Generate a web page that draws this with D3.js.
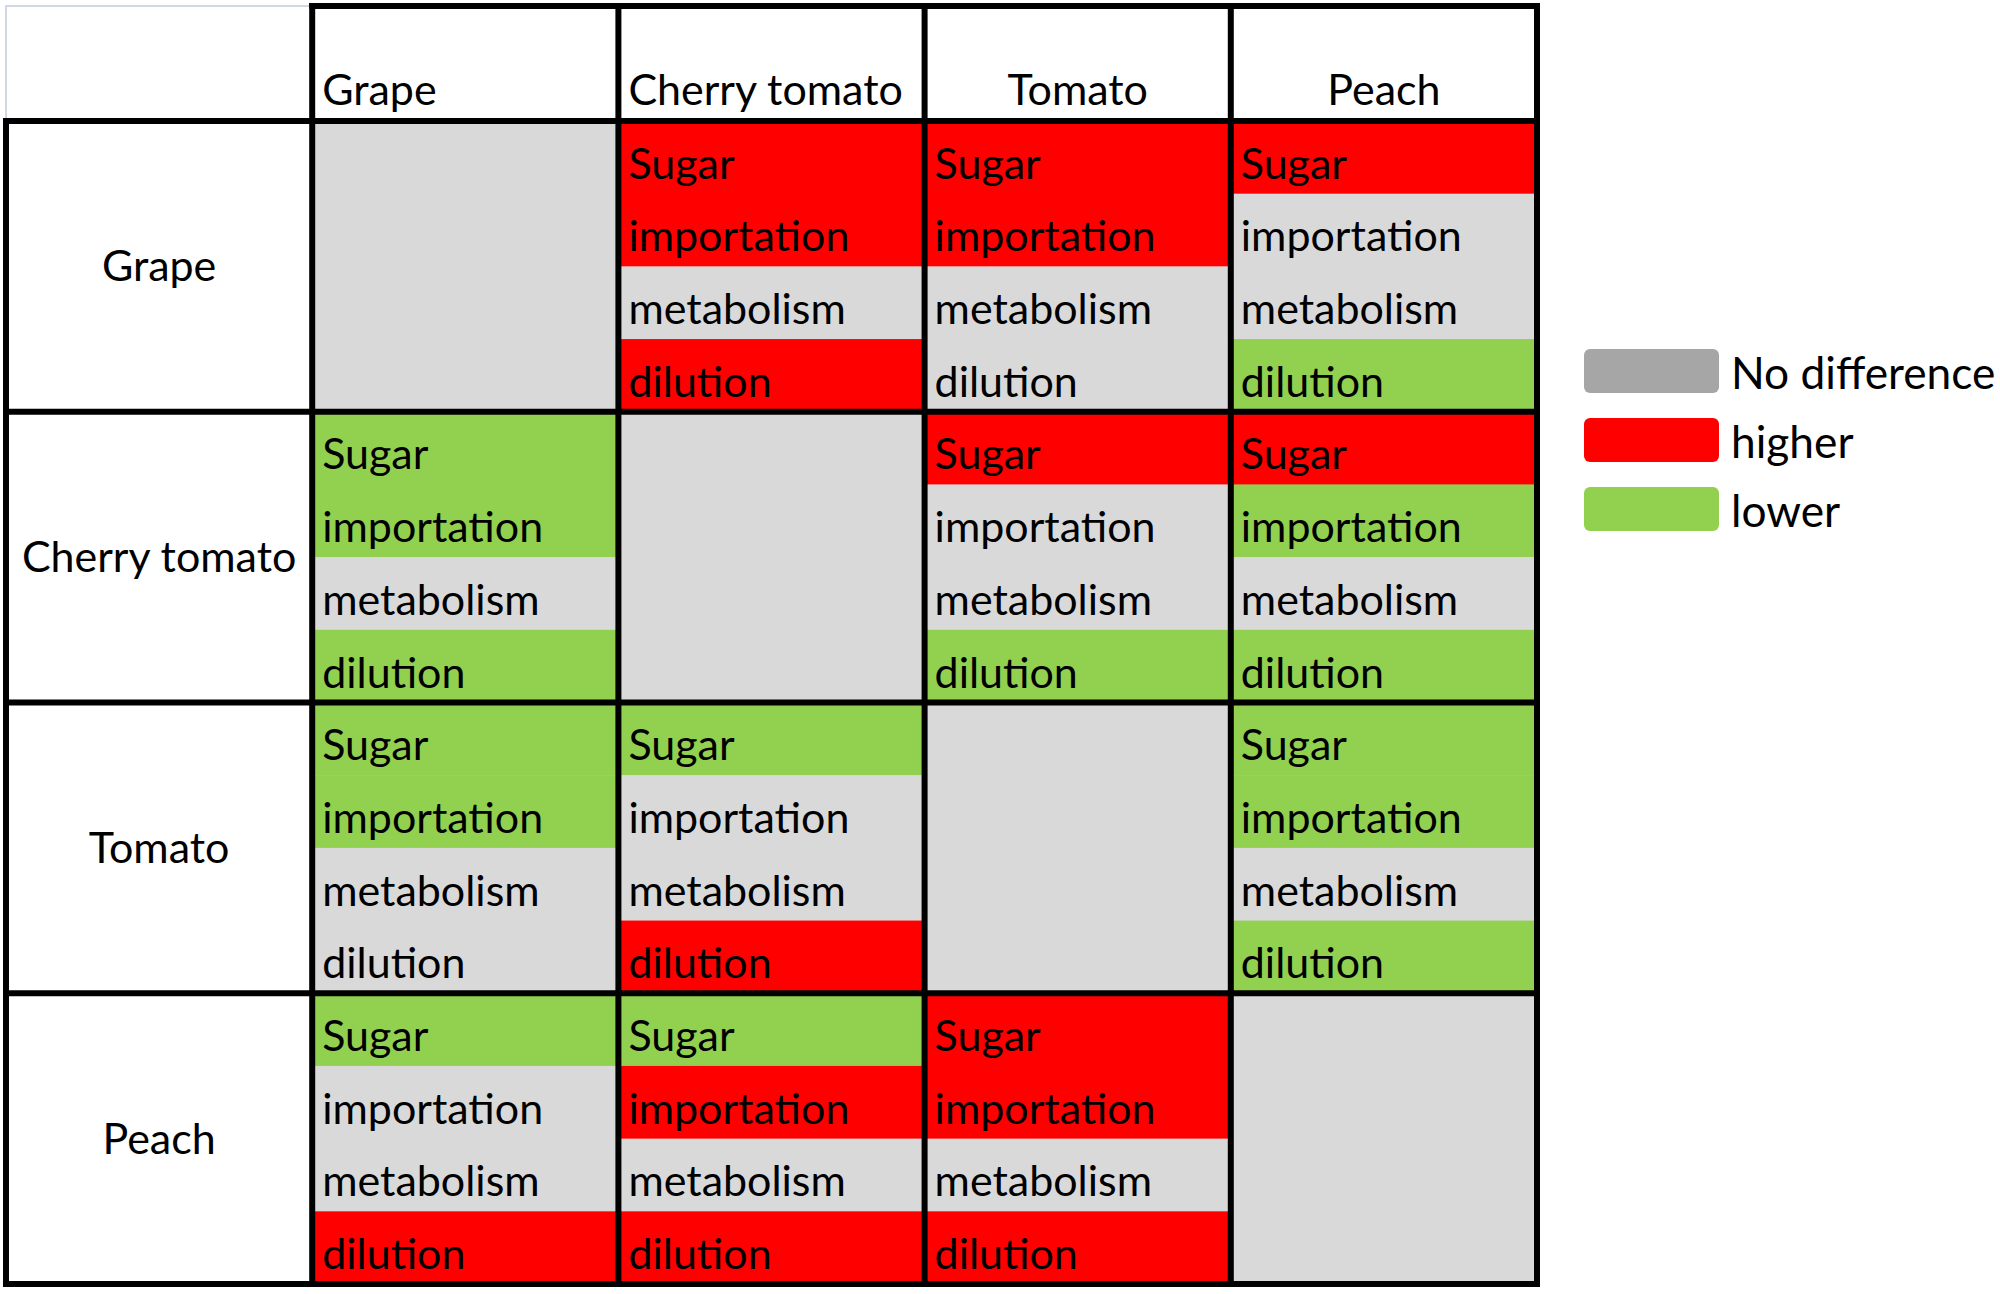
<!DOCTYPE html>
<html>
<head>
<meta charset="utf-8">
<script src="https://cdn.jsdelivr.net/npm/d3@7"></script>
<style>
    html, body { margin: 0; padding: 0; background: #fff; }
    svg { display: block; }
</style>
</head>
<body>
<div id="chart"></div>
<script>
// fruits compared (rows vs columns)
const fruits = ["Grape", "Cherry tomato", "Tomato", "Peach"];
// the four process lines in each cell
const processes = ["Sugar", "importation", "metabolism", "dilution"];
// status per row fruit, per column fruit, one letter per process: h = higher, l = lower, n = no difference, null = diagonal
const grapeRow = [null, "hhnh", "hhnn", "hnnl"];
const cherryTomatoRow = ["llnl", null, "hnnl", "hlnl"];
const tomatoRow = ["llnn", "lnnh", null, "llnl"];
const peachRow = ["lnnh", "lhnh", "hhnh", null];
const statusRows = [grapeRow, cherryTomatoRow, tomatoRow, peachRow];
// legend
const legendKeys = ["n", "h", "l"];
const legendLabels = ["No difference", "higher", "lower"];

const width = 2000, height = 1294;
const fontFamily = "Lato, 'Open Sans', sans-serif";

const cellFill = {h: "#ff0000", l: "#92d050", n: "#d9d9d9"};
const legendFill = {h: "#ff0000", l: "#92d050", n: "#a6a6a6"};

const svg = d3.select("#chart").append("svg")
    .attr("width", width)
    .attr("height", height)
    .attr("font-family", fontFamily);

// size the font so that "importation" is as wide as in the original figure
let probe = svg.append("text").attr("font-size", 100).text("importation");
let fontSize = 100 * 221 / probe.node().getComputedTextLength();
probe.remove();

// layout scales
let x = d3.scaleBand()
    .domain(["label"].concat(fruits))
    .range([6, 1537]);

let y = d3.scaleBand()
    .domain(fruits)
    .range([121, 1284]);

let sub = d3.scaleBand()
    .domain(processes)
    .range([0, y.bandwidth()]);

let headerTop = 6, headerBottom = 121;

// build the cell list
let cells = [];
statusRows.forEach(function (row, ri) {
    row.forEach(function (code, ci) {
        cells.push({row: fruits[ri], col: fruits[ci], code: code});
    });
});

let cellG = svg.append("g").selectAll("g.cell")
    .data(cells)
    .enter().append("g")
    .attr("class", "cell")
    .attr("transform", function (d) { return "translate(" + x(d.col) + "," + y(d.row) + ")"; });

// diagonal: plain grey
cellG.filter(function (d) { return d.code === null; })
    .append("rect")
    .attr("width", x.bandwidth())
    .attr("height", y.bandwidth())
    .attr("fill", cellFill.n);

let lines = cellG.filter(function (d) { return d.code !== null; })
    .selectAll("g.line")
    .data(function (d) {
        return processes.map(function (p, i) { return {process: p, code: d.code[i]}; });
    })
    .enter().append("g")
    .attr("class", "line")
    .attr("transform", function (d) { return "translate(0," + sub(d.process) + ")"; });

lines.append("rect")
    .attr("width", x.bandwidth())
    .attr("height", sub.bandwidth() + 0.5)
    .attr("fill", function (d) { return cellFill[d.code]; });

lines.append("text")
    .attr("x", 10)
    .attr("y", sub.bandwidth() - 15)
    .attr("font-size", fontSize)
    .attr("fill", "#000")
    .text(function (d) { return d.process; });

// row labels
svg.append("g").selectAll("text")
    .data(fruits)
    .enter().append("text")
    .attr("x", x("label") + x.bandwidth() / 2)
    .attr("y", function (d) { return y(d) + y.bandwidth() / 2; })
    .attr("dy", "0.35em")
    .attr("text-anchor", "middle")
    .attr("font-size", fontSize)
    .text(function (d) { return d; });

// column headers: first two left aligned, the others centered
svg.append("g").selectAll("text")
    .data(fruits)
    .enter().append("text")
    .attr("x", function (d, i) { return i < 2 ? x(d) + 10 : x(d) + x.bandwidth() / 2; })
    .attr("y", headerBottom - 16)
    .attr("text-anchor", function (d, i) { return i < 2 ? "start" : "middle"; })
    .attr("font-size", fontSize)
    .text(function (d) { return d; });

// light border around the empty corner cell
svg.append("rect")
    .attr("x", x("label"))
    .attr("y", headerTop)
    .attr("width", x.bandwidth())
    .attr("height", headerBottom - headerTop)
    .attr("fill", "none")
    .attr("stroke", "#d0d7e5")
    .attr("stroke-width", 2);

// black grid lines
let grid = svg.append("g")
    .attr("stroke", "#000")
    .attr("stroke-width", 6)
    .attr("stroke-linecap", "square");

// vertical lines
grid.selectAll("line.v")
    .data(x.domain().concat(["end"]))
    .enter().append("line")
    .attr("class", "v")
    .attr("x1", function (d) { return d === "end" ? x.range()[1] : x(d); })
    .attr("x2", function (d) { return d === "end" ? x.range()[1] : x(d); })
    .attr("y1", function (d) { return d === "label" ? headerBottom : headerTop; })
    .attr("y2", y.range()[1]);

// horizontal lines
grid.selectAll("line.h")
    .data([headerTop, headerBottom].concat(fruits.slice(1).map(function (f) { return y(f); }), [y.range()[1]]))
    .enter().append("line")
    .attr("class", "h")
    .attr("x1", function (d) { return d === headerTop ? x(fruits[0]) : x.range()[0]; })
    .attr("x2", x.range()[1])
    .attr("y1", function (d) { return d; })
    .attr("y2", function (d) { return d; });

// legend
let legendY = d3.scalePoint()
    .domain(legendKeys)
    .range([349, 487]);

let legend = svg.append("g").selectAll("g")
    .data(legendKeys)
    .enter().append("g")
    .attr("transform", function (d) { return "translate(1584," + legendY(d) + ")"; });

legend.append("rect")
    .attr("width", 135)
    .attr("height", 44)
    .attr("rx", 6)
    .attr("fill", function (d) { return legendFill[d]; });

legend.append("text")
    .attr("x", 147)
    .attr("y", 40)
    .attr("font-size", fontSize * 1.03)
    .text(function (d, i) { return legendLabels[i]; });
</script>
</body>
</html>
